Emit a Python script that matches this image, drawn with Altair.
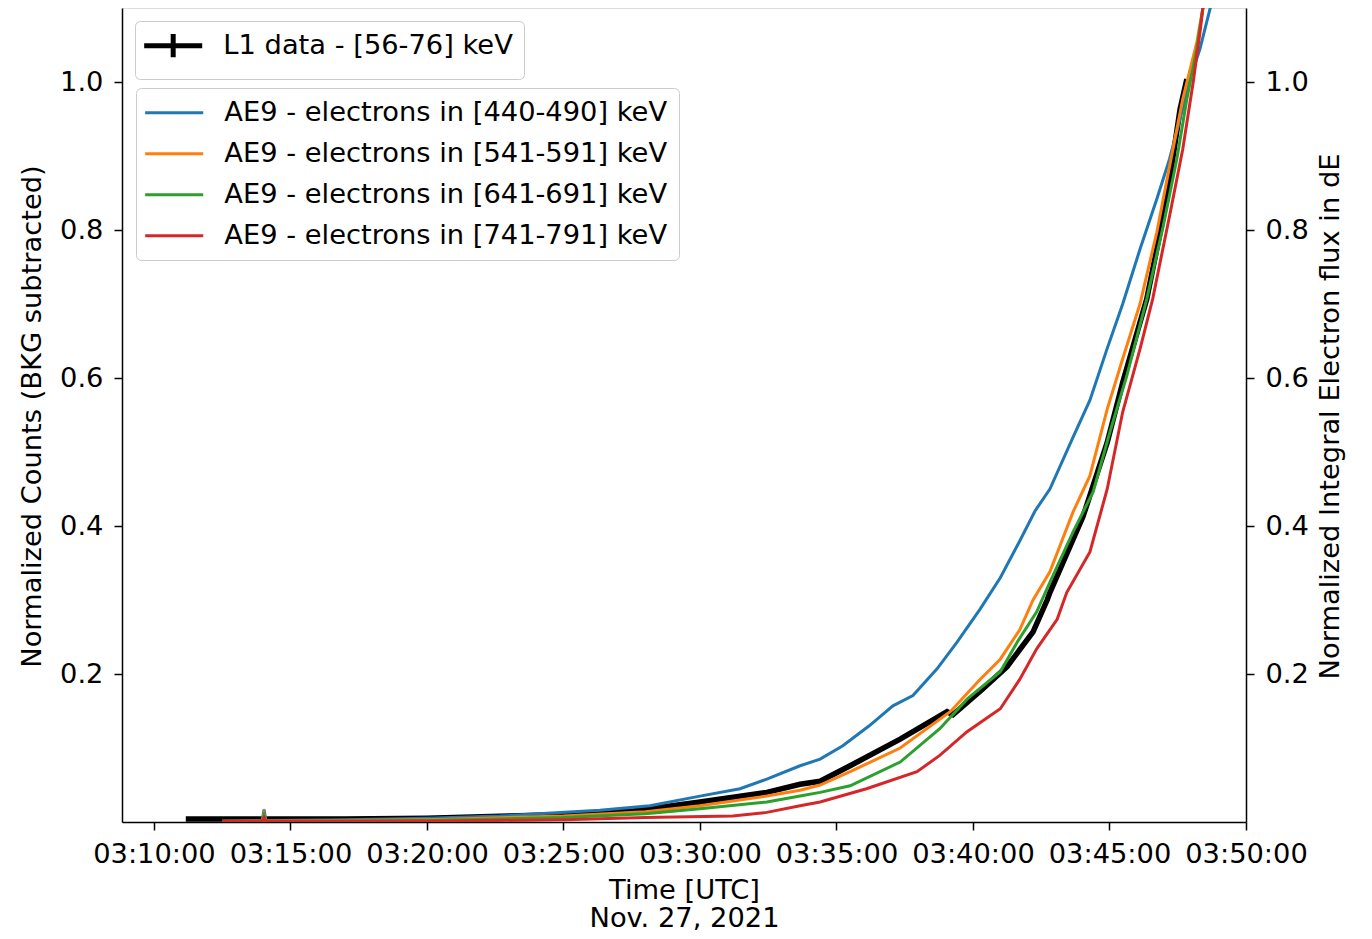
import altair as alt
import pandas as pd

# ---------------- data (times in UTC, Nov. 27, 2021) ----------------
L1_LABEL = "L1 data - [56-76] keV"
L1_TIME = ["03:11:10", "03:14:00", "03:17:00", "03:20:00", "03:23:00", "03:25:00",
           "03:27:33", "03:30:00", "03:32:27", "03:33:40", "03:34:24", "03:35:30",
           "03:37:20", "03:39:03", "03:39:16", "03:40:22", "03:41:15", "03:42:12",
           "03:42:43", "03:42:49", "03:44:02", "03:44:55", "03:45:29", "03:46:22",
           "03:47:06", "03:47:35", "03:47:50"]
L1_VAL = [0.004, 0.004, 0.004, 0.005, 0.008, 0.010, 0.015, 0.027, 0.040, 0.051,
          0.055, 0.076, 0.112, 0.149, 0.145, 0.180, 0.210, 0.257, 0.300, 0.310,
          0.413, 0.513, 0.594, 0.707, 0.842, 0.963, 1.004]

AE9_LABELS = ["AE9 - electrons in [440-490] keV", "AE9 - electrons in [541-591] keV",
              "AE9 - electrons in [641-691] keV", "AE9 - electrons in [741-791] keV"]
AE9_COLORS = ["#1f77b4", "#ff7f0e", "#2ca02c", "#d62728"]

E440_TIME = ["03:12:30", "03:13:58", "03:14:02", "03:14:06", "03:17:00", "03:20:00",
             "03:22:40", "03:26:20", "03:28:10", "03:30:00", "03:31:28", "03:32:27",
             "03:33:40", "03:34:24", "03:35:14", "03:36:12", "03:37:04", "03:37:48",
             "03:38:41", "03:39:25", "03:40:16", "03:41:00", "03:41:43", "03:42:16",
             "03:42:49", "03:43:40", "03:44:17", "03:44:55", "03:45:29", "03:46:07",
             "03:46:44", "03:47:12", "03:47:41", "03:47:57", "03:48:19", "03:48:41",
             "03:49:00"]
E440_VAL = [0.001, 0.002, 0.017, 0.002, 0.003, 0.005, 0.008, 0.016, 0.022, 0.035,
            0.045, 0.058, 0.076, 0.085, 0.103, 0.130, 0.157, 0.171, 0.207, 0.243,
            0.288, 0.330, 0.380, 0.420, 0.450, 0.520, 0.570, 0.640, 0.700, 0.774,
            0.842, 0.896, 0.964, 1.004, 1.045, 1.099, 1.140]

E541_TIME = ["03:12:30", "03:13:58", "03:14:02", "03:14:06", "03:20:00", "03:25:00",
             "03:28:00", "03:30:00", "03:32:27", "03:33:40", "03:34:24", "03:35:30",
             "03:37:20", "03:39:10", "03:40:16", "03:41:00", "03:41:43", "03:42:12",
             "03:42:49", "03:43:40", "03:44:17", "03:44:55", "03:45:29", "03:46:07",
             "03:46:44", "03:47:12", "03:47:41", "03:48:12", "03:48:25", "03:48:36"]
E541_VAL = [0.001, 0.0015, 0.011, 0.0015, 0.003, 0.008, 0.014, 0.022, 0.035, 0.043,
            0.050, 0.068, 0.100, 0.149, 0.193, 0.220, 0.260, 0.300, 0.338, 0.419,
            0.468, 0.558, 0.626, 0.700, 0.797, 0.886, 0.977, 1.054, 1.099, 1.130]

E641_TIME = ["03:12:30", "03:13:58", "03:14:02", "03:14:06", "03:20:00", "03:25:00",
             "03:28:00", "03:30:00", "03:32:27", "03:33:40", "03:34:24", "03:35:30",
             "03:37:20", "03:38:47", "03:39:47", "03:41:00", "03:41:37", "03:42:20",
             "03:42:49", "03:43:40", "03:44:24", "03:45:01", "03:45:38", "03:46:22",
             "03:46:58", "03:47:28", "03:47:50", "03:48:12", "03:48:25", "03:48:36"]
E641_VAL = [0.001, 0.001, 0.009, 0.001, 0.002, 0.006, 0.011, 0.018, 0.027, 0.035,
            0.040, 0.049, 0.081, 0.126, 0.166, 0.203, 0.243, 0.284, 0.324, 0.392,
            0.446, 0.527, 0.603, 0.707, 0.805, 0.896, 0.977, 1.045, 1.099, 1.130]

E741_TIME = ["03:12:30", "03:13:58", "03:14:02", "03:14:06", "03:20:00", "03:25:00",
             "03:28:00", "03:31:12", "03:32:27", "03:33:40", "03:34:24", "03:36:06",
             "03:37:57", "03:38:47", "03:39:47", "03:41:00", "03:41:43", "03:42:20",
             "03:43:05", "03:43:26", "03:44:17", "03:44:55", "03:45:29", "03:46:07",
             "03:46:35", "03:47:12", "03:47:41", "03:48:04", "03:48:19", "03:48:25",
             "03:48:30"]
E741_VAL = [0.001, 0.001, 0.006, 0.001, 0.001, 0.003, 0.006, 0.008, 0.013, 0.022,
            0.027, 0.045, 0.068, 0.090, 0.122, 0.153, 0.193, 0.234, 0.274, 0.310,
            0.365, 0.450, 0.554, 0.639, 0.707, 0.819, 0.909, 1.000, 1.068, 1.099,
            1.120]

X_TICKS = [10, 15, 20, 25, 30, 35, 40, 45, 50]     # minutes after 03:00
Y_TICKS = [0.2, 0.4, 0.6, 0.8, 1.0]


def minutes(ts):
    h, m, s = (int(v) for v in ts.split(":"))
    return h * 60 + m + s / 60.0 - 180.0


l1 = pd.DataFrame({"t": [minutes(s) for s in L1_TIME], "v": L1_VAL, "lab": L1_LABEL})
frames = []
for lab, ts, vs in zip(AE9_LABELS, [E440_TIME, E541_TIME, E641_TIME, E741_TIME],
                       [E440_VAL, E541_VAL, E641_VAL, E741_VAL]):
    frames.append(pd.DataFrame({"t": [minutes(s) for s in ts], "v": vs, "lab": lab}))
ae9 = pd.concat(frames, ignore_index=True)

FONT = "DejaVu Sans"
FS = 27.3

x_enc = alt.X(
    "t:Q",
    scale=alt.Scale(domain=[8.83, 50], nice=False, zero=False),
    axis=alt.Axis(
        values=X_TICKS,
        labelExpr="'03:' + datum.value + ':00'",
        title=["Time [UTC]", "Nov. 27, 2021"],
        titleFontSize=FS, titleFontWeight="normal", titleFont=FONT, titleColor="black",
        titleBaseline="alphabetic", titleY=76, titleLineHeight=28,
        labelFontSize=FS, labelFont=FONT, labelColor="black", labelPadding=10,
        labelOverlap=False, labelFlush=False,
        tickSize=8, tickWidth=1.5, tickColor="black",
        domainColor="black", domainWidth=1.5, grid=False,
    ),
)

y_scale = alt.Scale(domain=[0, 1.1], nice=False, zero=False)


def y_axis(orient, title, title_x):
    return alt.Axis(
        orient=orient, values=Y_TICKS, format=".1f", title=title,
        titleFontSize=FS, titleFontWeight="normal", titleFont=FONT, titleColor="black",
        titleAngle=270, titleBaseline="alphabetic", titleAlign="center",
        titleX=title_x, titleY=408,
        labelFontSize=FS, labelFont=FONT, labelColor="black", labelPadding=11,
        labelOverlap=False, labelFlush=False,
        tickSize=8, tickWidth=1.5, tickColor="black",
        domainColor="black", domainWidth=1.5, grid=False,
    )


legend_common = dict(
    orient="none", title=None, labelFont=FONT, labelFontSize=FS, labelColor="black",
    labelLimit=0, fillColor="white", strokeColor="#cccccc",
    cornerRadius=5, padding=11, rowPadding=13, symbolSize=374, labelOffset=50,
)

black = alt.Chart(l1).mark_line(clip=True, strokeWidth=5.5).encode(
    x=x_enc,
    y=alt.Y("v:Q", scale=y_scale,
            axis=y_axis("left", "Normalized Counts (BKG subtracted)", -82)),
    color=alt.Color(
        "lab:N",
        scale=alt.Scale(domain=[L1_LABEL], range=["black"]),
        legend=alt.Legend(legendX=13, legendY=13,
                          symbolType="M-1.6,0H4.4M1.4,-1.2V1.2",
                          symbolStrokeWidth=5, **legend_common),
    ),
)

colored = alt.Chart(ae9).mark_line(clip=True, strokeWidth=3).encode(
    x=x_enc,
    y=alt.Y("v:Q", scale=y_scale,
            axis=y_axis("right", "Normalized Integral Electron flux in dE", 92)),
    color=alt.Color(
        "lab:N",
        scale=alt.Scale(domain=AE9_LABELS, range=AE9_COLORS),
        legend=alt.Legend(legendX=14, legendY=80, symbolType="M-1.6,0H4.4",
                          symbolStrokeWidth=3, **legend_common),
    ),
    order=alt.Order("t:Q"),
)

chart = (
    alt.layer(black, colored)
    .resolve_scale(y="independent", color="independent")
    .properties(
        width=1124, height=814,
        autosize=alt.AutoSizeParams(type="none"),
        padding={"left": 114, "top": 0, "right": 110, "bottom": 109},
    )
    .configure_view(stroke="black", strokeWidth=1.5)
    .configure_legend(strokeWidth=1.5)
    .configure(font=FONT)
)

chart.save("out.html", embed_options={"renderer": "svg", "actions": False})
